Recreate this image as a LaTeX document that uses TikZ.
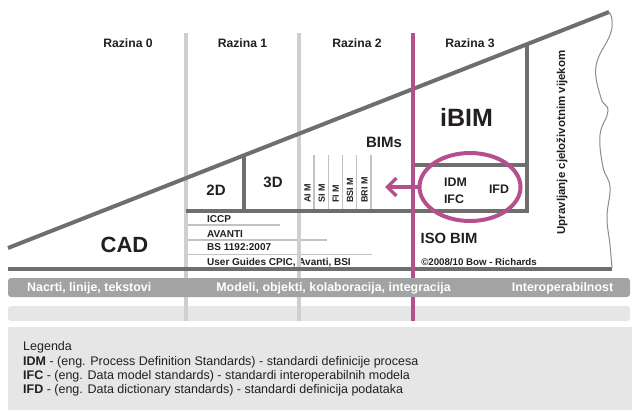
\documentclass[tikz,border=0pt]{standalone}
\usepackage{fontspec}
\setmainfont{Liberation Sans}
\usetikzlibrary{arrows.meta,shapes.geometric}
\definecolor{dk}{HTML}{6E6E6E}
\definecolor{lg}{HTML}{CFCFCF}
\definecolor{mg}{HTML}{B5508E}
\definecolor{barc}{HTML}{A3A3A3}
\definecolor{pale}{HTML}{E6E6E6}
\definecolor{txt}{HTML}{231F20}
\definecolor{thinc}{HTML}{C2C2C2}
\newcommand\myfs[1]{\fontsize{#1}{#1}\selectfont}
\begin{document}
\begin{tikzpicture}[x=1pt,y=-1pt,
  every node/.style={inner sep=0pt,text=txt},
  dkline/.style={draw=dk,line width=4pt},
  greyline/.style={draw=lg,line width=4pt},
  mgline/.style={draw=mg,line width=4pt},
  thinline/.style={draw=thinc,line width=1.1pt},
  head/.style={font=\bfseries\myfs{12.2}, anchor=base},
  rowtxt/.style={font=\bfseries\myfs{10}, anchor=base west},
  bartxt/.style={font=\bfseries\myfs{12.4}, anchor=base, text=white},
  legtxt/.style={font=\myfs{12.5}, anchor=base west},
  vlab/.style={font=\bfseries\myfs{9}, rotate=90, anchor=base west}
]
\useasboundingbox (0,0) rectangle (632,410);
% pale bands
\fill[pale, rounded corners=3pt] (8,306) rectangle (630,321);
\fill[pale] (8,327) rectangle (632,410);
% row texts
\node[rowtxt] (iccp) at (207,222) {ICCP};
\node[rowtxt] (avanti) at (207,237) {AVANTI};
\node[rowtxt] (bs) at (207,250) {BS 1192:2007};
\node[rowtxt] (ug) at (207,265) {User Guides CPIC, Avanti, BSI};
\draw[thinline] (186,225) -- (280,225);
\draw[thinline] (186,240) -- (327,240);
\draw[thinline] (186,254.5) -- (372,254.5);
% thin BIM lines
\foreach \x in {314,328.3,342.3,356.7,371} \draw[thinline] (\x,155) -- (\x,211);
% light grey verticals
\draw[greyline] (186,33) -- (186,321);
\draw[greyline] (299,33) -- (299,321);
% dark structure
\draw[dkline] (8,248) -- (609,12);
\draw[dkline] (8,269) -- (612,269);
\draw[dkline, line join=miter] (527,44) -- (527,211) -- (186,211);
\draw[dkline] (244,155) -- (244,211);
\draw[dkline] (413,165) -- (527,165);
% wavy right edge
\draw[draw=dk!80, line width=1pt] plot[smooth, tension=0.7] coordinates {(609,12) (612,20) (610,35) (596,66) (601,98) (608,111) (600,135) (603,167) (610,187) (607,217) (610,245) (612,268)};
% magenta
\draw[mgline] (413,33) -- (413,321);
% bar 1
\fill[barc, rounded corners=3pt] (8,278) rectangle (630,297);
\node[bartxt, anchor=base west] (b1) at (27,291.5) {Nacrti, linije, tekstovi};
\node[bartxt] (b2) at (333.5,291.5) {Modeli, objekti, kolaboracija, integracija};
\node[bartxt] (b3) at (562.5,291.5) {Interoperabilnost};
% headers
\node[head] (r0) at (128,47) {Razina 0};
\node[head] (r1) at (242.5,47) {Razina 1};
\node[head] (r2) at (357,47) {Razina 2};
\node[head] (r3) at (470,47) {Razina 3};
% big labels
\node[font=\bfseries\myfs{22}, anchor=base] (cad) at (124.5,252) {CAD};
\node[font=\bfseries\myfs{15}, anchor=base] (d2) at (216,195) {2D};
\node[font=\bfseries\myfs{15}, anchor=base] (d3) at (273,187) {3D};
\node[font=\bfseries\myfs{15}, anchor=base] (bims) at (384,147) {BIMs};
\node[font=\bfseries\myfs{25}, anchor=base] (ibim) at (466.5,126) {iBIM};
\node[font=\bfseries\myfs{12.4}, anchor=base] (idm) at (455.5,186) {IDM};
\node[font=\bfseries\myfs{12.4}, anchor=base] (ifc) at (454,203) {IFC};
\node[font=\bfseries\myfs{12.4}, anchor=base] (ifd) at (499,193) {IFD};
\node[font=\bfseries\myfs{14.8}, anchor=base] (iso) at (449,243) {ISO BIM};
\node[font=\bfseries\myfs{9.7}, anchor=base] (copy) at (479,265) {©2008/10 Bow - Richards};
\node[font=\bfseries\myfs{11.5}, rotate=90] (upr) at (562,142.5) {Upravljanje cjeloživotnim vijekom};
% vertical BIM labels
\node[vlab] (aim) at (310.5,203) {AI M};
\node[vlab] (sim) at (324.8,203) {SI M};
\node[vlab] (fim) at (338.8,203) {FI M};
\node[vlab] (bsim) at (353.2,203) {BSI M};
\node[vlab] (brim) at (367.5,203) {BRI M};
% ellipse and arrow
\node[ellipse, draw=mg, line width=4pt, minimum width=101pt, minimum height=68pt] (ell) at (470,187) {};
\coordinate (tip) at (385,187);
\draw[draw=mg, line width=3.5pt, -{Straight Barb[length=9pt,width=18pt]}] (ell.west) -- (tip);
% legend
\node[legtxt] (l0) at (23,350) {Legenda};
\node[legtxt] (l1) at (23,365) {\textbf{IDM} - (eng. Process Definition Standards) - standardi definicije procesa};
\node[legtxt] (l2) at (23,379) {\textbf{IFC} - (eng. Data model standards) - standardi interoperabilnih modela};
\node[legtxt] (l3) at (23,393) {\textbf{IFD} - (eng. Data dictionary standards) - standardi definicija podataka};
\end{tikzpicture}
\end{document}
